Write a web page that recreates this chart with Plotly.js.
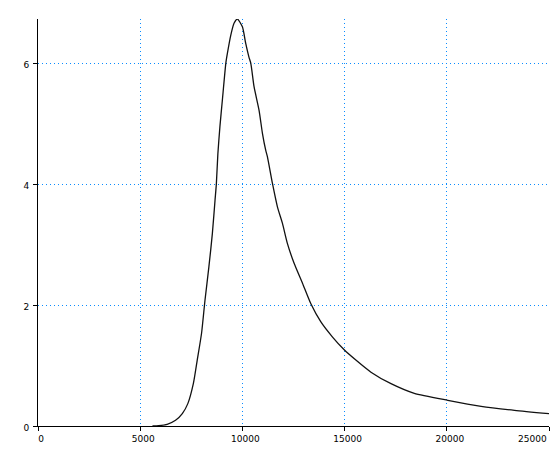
<!DOCTYPE html>
<html>
<head>
<meta charset="utf-8">
<script src="https://cdn.plot.ly/plotly-3.0.1.min.js"></script>
<style>html,body{margin:0;padding:0;background:#fff}#chart{width:555px;height:465px}</style>
</head>
<body>
<div id="chart"></div>
<script>
const xValues = [5600, 5900, 6320, 6730, 7060, 7330, 7600, 7790, 8000, 8170, 8360, 8530, 8660, 8725, 8800, 8900, 9020, 9190, 9265, 9430, 9590, 9755,
  10000, 10160, 10320, 10410, 10570, 10815, 10980, 11140, 11225, 11470, 11716, 11960, 12200, 12530, 12940, 13350, 13840, 14410, 14980, 15550, 16290, 17270, 18410, 20050, 21680, 23310, 25000];
const yValues = [0, 0.005, 0.028, 0.094, 0.205, 0.37, 0.70, 1.09, 1.53, 2.08, 2.63, 3.18, 3.73, 4.0, 4.5, 4.95, 5.39, 6.0, 6.16, 6.46, 6.66, 6.73,
  6.6, 6.33, 6.1, 6.0, 5.61, 5.22, 4.84, 4.56, 4.45, 4.01, 3.62, 3.35, 3.02, 2.69, 2.36, 2.02, 1.72, 1.47, 1.26, 1.09, 0.89, 0.70, 0.54, 0.425, 0.326, 0.26, 0.205];
const xTicks = [0, 5000, 10000, 15000, 20000, 25000];
const yTicks = [0, 2, 4, 6];

const gridColor = '#0a8cff';
const lastX = xTicks[xTicks.length - 1];
Plotly.newPlot('chart', [{
  x: xValues, y: yValues, type: 'scatter', mode: 'lines',
  line: {color: '#111111', width: 1.3, shape: 'spline', smoothing: 0.6}, hoverinfo: 'skip'
}], {
  width: 555, height: 465,
  margin: {l: 38, r: 6, t: 19, b: 39},
  paper_bgcolor: '#fff', plot_bgcolor: '#fff',
  showlegend: false,
  font: {family: 'DejaVu Sans', size: 9, color: '#000'},
  xaxis: {
    range: [0, 25000], tickvals: xTicks,
    ticktext: xTicks.map(v => v === lastX ? '' : String(v)),
    ticklabelshift: 3,
    showgrid: true, gridcolor: gridColor, griddash: '1px,3px', gridwidth: 1,
    zeroline: false, showline: true, linecolor: '#000', linewidth: 1,
    ticks: 'outside', ticklen: 4, tickcolor: '#000', tickwidth: 1
  },
  yaxis: {
    range: [0, 6.73], tickvals: yTicks, ticktext: yTicks.map(String),
    ticklabelstandoff: 2, ticklabelshift: 2,
    showgrid: true, gridcolor: gridColor, griddash: '1px,3px', gridwidth: 1,
    zeroline: false, showline: true, linecolor: '#000', linewidth: 1,
    ticks: 'outside', ticklen: 4, tickcolor: '#000', tickwidth: 1
  },
  annotations: [{
    x: lastX, xref: 'x', y: 0, yref: 'paper', text: String(lastX),
    showarrow: false, xanchor: 'right', yanchor: 'top', yshift: -6,
    font: {family: 'DejaVu Sans', size: 9, color: '#000'}
  }]
}, {staticPlot: true, displayModeBar: false});
</script>
</body>
</html>
